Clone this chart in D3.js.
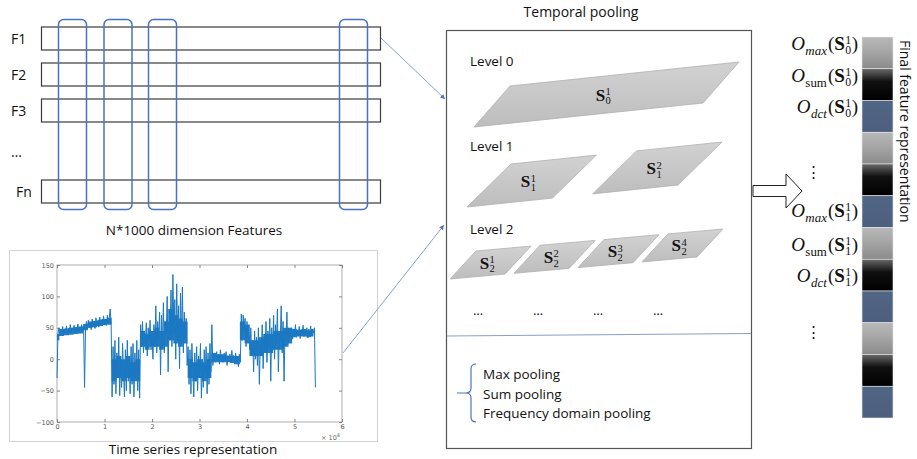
<!DOCTYPE html>
<html>
<head>
<meta charset="utf-8">
<script src="https://cdn.jsdelivr.net/npm/d3@7"></script>
<style>
  html, body { margin: 0; padding: 0; background: #fff; }
  svg text { font-family: "Open Sans", sans-serif; fill: #111; }
  .axis text { font-family: "DejaVu Sans", sans-serif; font-size: 6.5px; fill: #555; }
  .axis line { stroke: #888; }
  .axis path { display: none; }
</style>
</head>
<body>
<svg id="graph-svg" width="917" height="459"></svg>
<script>
// ---- data ----
var features = ['F1', 'F2', 'F3', '...', 'Fn'];
var windows = ['w1', 'w2', 'w3', 'wn'];
var levels = ['Level 0', 'Level 1', 'Level 2'];
var segments = [1, 2, 4];
var poolings = ['Max pooling', 'Sum pooling', 'Frequency domain pooling'];
var cellTypes = ['max', 'sum', 'dct', 'max', 'sum', 'dct', 'max', 'sum', 'dct', 'max', 'sum', 'dct'];
var labelOps = ['max', 'sum', 'dct', 'dots', 'max', 'sum', 'dct', 'dots'];
var labelLevels = ['0', '0', '0', '', '1', '1', '1', ''];

var xTicks = [0, 1, 2, 3, 4, 5, 6];
var yTicks = [-100, -50, 0, 50, 100, 150];
var tsStep = 0.02;   // x10^4 samples between line points
var tsValues = [
    -30, 40, 50, 38, 48, 42, 52, 39, 47, 44, 53, 40, 49, 43, 55, 41, 50, 45, 54, 42, 51, 46, 56, 43, 50, 47, 55, 44, 52,
    -45, 48,
    60, 48, 62, 50, 58, 47, 64, 52, 60, 49, 66, 54, 61, 51, 67, 55, 63, 53, 69, 56, 64, 54, 70, 57, 66, 80,
    55, -60,
    20, -40, 30, -55, 10, -30, 35, -58, 5, -45, 25, -20, -60, 15, -50, 30, -35, 0, -55, 20, -40, 25, -60, 10, -30, 30, -50, 15, -62,
    55, 20, 60, 10, 45, 25, 58, 5, 50, 30, 62, 15, 40, 0, 55, 20, 85, 10, 60, 30, 75, -25,
    70, 20, 90, 10, 60, 40, 100, -20, 80, 30, 110, 20, 135, 40, 95, 0, 120, 30, 85, -15, 105, 25, 115, 10, 75, 35, 65, -10,
    20, -40, 15, -55, 25, -20, -60, 10, -35, 20, -50, 5, -30, 25, -62, 0, -45, 15, -25, 20, -55, 10, -40, 25, -20, 55, -10, 5,
    10, -5, 12, 0, 8, -8, 15, 2, 6, -5, 10, -2, 12, -10, 5, 3, 8, -6, 14, 0, 6, -8, 10, -3, 5, -12, 8, -5,
    72, 30, 70, 45, 65, 20, 60, 35, 55, 15, 50, 5,
    30, -20, 45, 0, 35, -10, 50, -40, 25, 5, 55, -15, 40, 10, 60, -5, 45, 20, 65, -35, 50, 15, 70, 0, 55, 25, 80, -20, 40, 30,
    85, 10, 60, -35, 45, 30, 75, 20, 50, 35, 45,
    50, 32, 48, 38, 55, 35, 46, 40, 52, 33, 47, 39, 54, 36, 45, 41, 50, 34, 48, 38, 53, 37, 46, 42, 50, -45
];
// dense core of the signal, one value pair every 0.1 x10^4
var coreStep = 0.1;
var coreLow = [
    30, 37, 38, 39, 40, 41, 46, 50, 51, 53, 54, 55,
    -35, -30, -35, -30, -35, -35,
    20, 15, 20, 20, 15, 20, 30, 25, 20, 25,
    -30, -35, -30, -35, -30,
    -5, -5, -5, -5, -6, -8,
    30, 25, 5, 5, 5, 10, 10, 15, 15, 20, 25,
    35, 36, 36, 35, 36
];
var coreHigh = [
    40, 48, 49, 50, 51, 52, 56, 60, 61, 63, 64, 66,
    0, 5, 0, 5, -5, 0,
    45, 40, 45, 50, 45, 60, 80, 70, 65, 60,
    0, -5, 0, -5, 0,
    10, 8, 8, 6, 5, 5,
    60, 55, 30, 30, 35, 40, 40, 45, 45, 50, 50,
    48, 47, 48, 46, 48
];

var blue = '#4a72c4';
var svg = d3.select('#graph-svg');
var defs = svg.append('defs');

defs.append('marker')
    .attr('id', 'arrow-blue')
    .attr('viewBox', '0 0 10 10')
    .attr('refX', 10).attr('refY', 5)
    .attr('markerWidth', 6).attr('markerHeight', 6)
    .attr('orient', 'auto')
    .append('path').attr('d', 'M0,0L10,5L0,10z').attr('fill', '#4f74c0');

var addGradient = function(id, stops) {
    var g = defs.append('linearGradient').attr('id', id)
        .attr('x1', '0%').attr('y1', '0%').attr('x2', '0%').attr('y2', '100%');
    stops.forEach(function(s) {
        g.append('stop').attr('offset', s[0]).attr('stop-color', s[1]);
    });
};
addGradient('grad-max', [['0%', '#b8b8b8'], ['45%', '#a6a6a6'], ['100%', '#8a8a8a']]);
addGradient('grad-sum', [['0%', '#6a6a6a'], ['40%', '#101010'], ['100%', '#000000']]);
addGradient('grad-dct', [['0%', '#516585'], ['100%', '#4c5f7f']]);
addGradient('grad-shape', [['0%', '#d2d2d2'], ['100%', '#bdbdbd']]);

// math label: O_op(S_lvl^idx)
var mathLabel = function(parent, x, y, op, lvl, idx, size, anchorEnd) {
    var g = parent.append('g');
    var cx = 0;
    var piece = function(txt, opts) {
        var t = g.append('text')
            .attr('x', cx).attr('y', opts.dy || 0)
            .style('font-family', '"Liberation Serif", "DejaVu Serif", serif')
            .style('font-size', opts.size + 'px')
            .style('font-style', opts.italic ? 'italic' : 'normal')
            .style('font-weight', opts.bold ? 'bold' : 'normal')
            .text(txt);
        return t.node().getComputedTextLength();
    };
    if (op) {
        cx += piece('O', {size: size, italic: true}) + 0.5;
        cx += piece(op, {size: size * 0.68, italic: op != 'sum', dy: size * 0.25}) + 1;
        cx += piece('(', {size: size});
    }
    cx += piece('S', {size: size, bold: true}) + 0.5;
    var w1 = piece(idx, {size: size * 0.62, dy: -size * 0.32});
    var w2 = piece(lvl, {size: size * 0.62, dy: size * 0.22});
    cx += Math.max(w1, w2) + 0.5;
    if (op) cx += piece(')', {size: size});
    var shift = anchorEnd ? -cx : -cx / 2;
    g.attr('transform', 'translate(' + (x + shift) + ',' + y + ')');
    return g;
};

// ---------- left: feature matrix ----------
var featureY = d3.scaleOrdinal().domain(features).range([38.5, 74.5, 110.5, 157, 191.5]);
var windowX = d3.scaleOrdinal().domain(windows).range([58.5, 104, 148.5, 339.5]);
var rowH = 23;

var left = svg.append('g');
left.selectAll('rect.row')
    .data(features.filter(function(f) { return f != '...'; }))
    .enter().append('rect')
    .attr('class', 'row')
    .attr('x', 41.5).attr('width', 339)
    .attr('y', function(d) { return featureY(d) - rowH / 2; })
    .attr('height', rowH)
    .attr('fill', 'none').attr('stroke', '#3a3a3a').attr('stroke-width', 1.2);

left.selectAll('text.flabel')
    .data(features)
    .enter().append('text')
    .attr('class', 'flabel')
    .attr('x', function(d) { return d == 'Fn' ? 16 : 11; })
    .attr('y', function(d) { return featureY(d) + (d == '...' ? 0 : 5); })
    .style('font-size', '14px')
    .text(function(d) { return d == '...' ? '…' : d; });

left.selectAll('rect.win')
    .data(windows)
    .enter().append('rect')
    .attr('class', 'win')
    .attr('x', function(d) { return windowX(d); })
    .attr('y', 19.5).attr('width', 28).attr('height', 190)
    .attr('rx', 5).attr('ry', 5)
    .attr('fill', 'none').attr('stroke', blue).attr('stroke-width', 1.5);

left.append('text')
    .attr('x', 194).attr('y', 235)
    .attr('text-anchor', 'middle')
    .style('font-size', '13.5px')
    .text('N*1000 dimension Features');

// ---------- left: time series ----------
var ts = svg.append('g');
ts.append('rect')
    .attr('x', 9.5).attr('y', 250.5).attr('width', 368).attr('height', 191)
    .attr('fill', '#fff').attr('stroke', '#d4d4d4').attr('stroke-width', 1);

var tsX = d3.scaleLinear().domain([0, 6]).range([57, 342]);
var tsY = d3.scaleLinear().domain([-100, 150]).range([422, 265]);

ts.append('rect')
    .attr('x', 57).attr('y', 265).attr('width', 285).attr('height', 157)
    .attr('fill', 'none').attr('stroke', '#999').attr('stroke-width', 0.8);

ts.append('g').attr('class', 'axis')
    .attr('transform', 'translate(0,422)')
    .call(d3.axisBottom(tsX).tickValues(xTicks).tickSizeInner(-3).tickSizeOuter(0)
        .tickPadding(2).tickFormat(d3.format('d')));
ts.append('g').attr('class', 'axis')
    .attr('transform', 'translate(0,265)')
    .call(d3.axisTop(tsX).tickValues(xTicks).tickSizeInner(-3).tickSizeOuter(0).tickFormat(''));
ts.append('g').attr('class', 'axis')
    .attr('transform', 'translate(57,0)')
    .call(d3.axisLeft(tsY).tickValues(yTicks).tickSizeInner(-3).tickSizeOuter(0).tickPadding(3));
ts.append('g').attr('class', 'axis')
    .attr('transform', 'translate(342,0)')
    .call(d3.axisRight(tsY).tickValues(yTicks).tickSizeInner(-3).tickSizeOuter(0).tickFormat(''));

var expo = ts.append('text').attr('class', 'axis')
    .attr('x', 321).attr('y', 440)
    .style('font-family', '"DejaVu Sans", sans-serif').style('font-size', '6.5px').style('fill', '#666');
expo.append('tspan').text('\u00d7 10');
expo.append('tspan').attr('dy', -3).style('font-size', '5px').text('4');

var core = d3.area()
    .curve(d3.curveStep)
    .x(function(d, i) { return tsX(i * coreStep); })
    .y0(function(d, i) { return tsY(coreLow[i]); })
    .y1(function(d) { return tsY(d); });
ts.append('path')
    .datum(coreHigh)
    .attr('d', core)
    .attr('fill', '#0a6fbd')
    .attr('opacity', 0.9);

var line = d3.line()
    .x(function(d, i) { return tsX(i * tsStep); })
    .y(function(d) { return tsY(d); });
ts.append('path')
    .datum(tsValues)
    .attr('d', line)
    .attr('fill', 'none')
    .attr('stroke', '#1a78c2')
    .attr('stroke-width', 1)
    .attr('stroke-linejoin', 'round');

ts.append('text')
    .attr('x', 193).attr('y', 454)
    .attr('text-anchor', 'middle')
    .style('font-size', '13.5px')
    .text('Time series representation');

// connector arrows
svg.append('line')
    .attr('x1', 381).attr('y1', 38).attr('x2', 445).attr('y2', 99)
    .attr('stroke', '#6a88c8').attr('stroke-width', 0.8)
    .attr('marker-end', 'url(#arrow-blue)');
svg.append('line')
    .attr('x1', 343).attr('y1', 353).attr('x2', 444).attr('y2', 225)
    .attr('stroke', '#6a88c8').attr('stroke-width', 0.8)
    .attr('marker-end', 'url(#arrow-blue)');

// ---------- middle: temporal pooling ----------
var mid = svg.append('g');
mid.append('text')
    .attr('x', 581).attr('y', 17)
    .attr('text-anchor', 'middle')
    .style('font-size', '14px')
    .text('Temporal pooling');

mid.append('rect')
    .attr('x', 446.5).attr('y', 30.5).attr('width', 305).attr('height', 418)
    .attr('fill', 'none').attr('stroke', '#555').attr('stroke-width', 1.2);

mid.append('line')
    .attr('x1', 447).attr('y1', 336).attr('x2', 751).attr('y2', 333.5)
    .attr('stroke', '#8aa0c4').attr('stroke-width', 1);

// per-level layout: x span of the bottom edges, baseline heights, side vector
var levelGeom = [
    {x0: 474, x1: 703, y0: 127, y1: 103, pad: 0, side: [36, -41], textY: 66},
    {x0: 467, x1: 678, y0: 207, y1: 185, pad: 0.32, side: [44, -43], textY: 151},
    {x0: 450, x1: 697, y0: 279, y1: 257, pad: 0.14, side: [26, -28], textY: 234}
];

levels.forEach(function(name, li) {
    var geo = levelGeom[li];
    mid.append('text')
        .attr('x', 470).attr('y', geo.textY)
        .style('font-size', '13.5px')
        .text(name);

    var band = d3.scaleBand()
        .domain(d3.range(segments[li]))
        .range([geo.x0, geo.x1])
        .paddingInner(geo.pad);
    var base = d3.scaleLinear().domain([geo.x0, geo.x1]).range([geo.y0, geo.y1]);

    var shapes = mid.selectAll('g.lvl' + li)
        .data(d3.range(segments[li]))
        .enter().append('g');

    shapes.append('path')
        .attr('d', function(d) {
            var a = band(d), b = band(d) + band.bandwidth();
            var s = geo.side;
            return 'M' + a + ',' + base(a)
                + 'L' + b + ',' + base(b)
                + 'L' + (b + s[0]) + ',' + (base(b) + s[1])
                + 'L' + (a + s[0]) + ',' + (base(a) + s[1]) + 'Z';
        })
        .attr('fill', 'url(#grad-shape)')
        .attr('stroke', '#b0b0b0').attr('stroke-width', 0.8);

    shapes.each(function(d) {
        var a = band(d) + band.bandwidth() / 2 + geo.side[0] / 2;
        var cy = base(a - geo.side[0] / 2) + geo.side[1] / 2;
        mathLabel(d3.select(this), a - 3, cy + 6, null, String(li), String(d + 1), 17, false);
    });
});

// continuation dots under level 2
var dotsX = d3.scalePoint().domain(d3.range(segments[2])).range([478, 658]);
mid.selectAll('text.dots')
    .data(d3.range(segments[2]))
    .enter().append('text')
    .attr('class', 'dots')
    .attr('x', function(d) { return dotsX(d); })
    .attr('y', 315)
    .attr('text-anchor', 'middle')
    .style('font-size', '13px')
    .text('…');

// brace + pooling list
mid.append('path')
    .attr('d', 'M476,364Q471,364 471,369L471,388Q471,393 466,393L457,393'
        + 'M466,393Q471,393 471,398L471,417Q471,422 476,422')
    .attr('fill', 'none').attr('stroke', blue).attr('stroke-width', 1.2);

mid.selectAll('text.pool')
    .data(poolings)
    .enter().append('text')
    .attr('class', 'pool')
    .attr('x', 483)
    .attr('y', function(d, i) { return 379 + i * 19.5; })
    .style('font-size', '13.5px')
    .text(function(d) { return d; });

// ---------- right: final feature vector ----------
var right = svg.append('g');
right.append('path')
    .attr('d', 'M753,185.5L786,185.5L786,174L802,191L786,208L786,196.5L753,196.5Z')
    .attr('fill', '#fff').attr('stroke', '#222').attr('stroke-width', 1);

var cellY = d3.scaleBand()
    .domain(d3.range(cellTypes.length))
    .range([37, 418]);

right.selectAll('rect.cell')
    .data(cellTypes)
    .enter().append('rect')
    .attr('class', 'cell')
    .attr('x', 862).attr('width', 31)
    .attr('y', function(d, i) { return cellY(i); })
    .attr('height', cellY.bandwidth())
    .attr('fill', function(d) { return 'url(#grad-' + d + ')'; })
    .attr('stroke', '#e8e8e8').attr('stroke-width', 0.6);

// vertical placement of the labels beside the bar (text centre)
var labelY = d3.scaleOrdinal()
    .domain(d3.range(labelOps.length))
    .range([45, 77, 108, 172, 212, 246, 277, 332]);

labelOps.forEach(function(op, i) {
    var cy = labelY(i);
    if (op == 'dots') {
        right.append('text')
            .attr('x', 813).attr('y', cy + 5)
            .attr('text-anchor', 'middle')
            .style('font-family', '"DejaVu Serif", serif')
            .style('font-size', '15px')
            .text('\u22ee');
    } else {
        mathLabel(right, 858, cy + 5, op, labelLevels[i], '1', 19, true);
    }
});

right.append('text')
    .attr('transform', 'translate(900,40) rotate(90)')
    .style('font-size', '14px')
    .text('Final feature representation');
</script>
</body>
</html>
